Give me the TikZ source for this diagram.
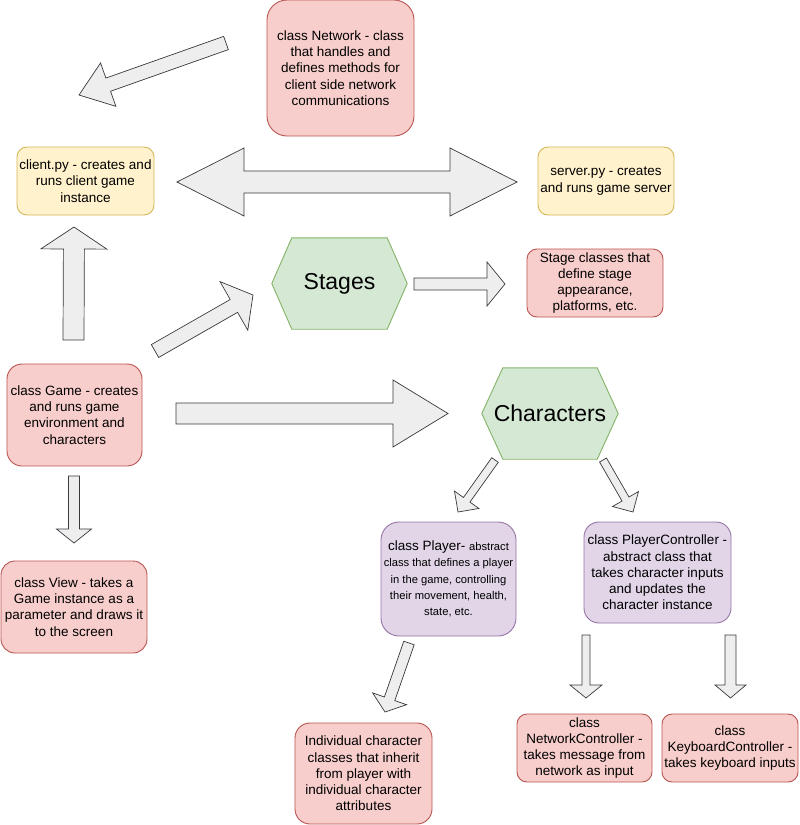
\documentclass[tikz,border=0pt]{standalone}
\usepackage{fontspec}
\setmainfont{Liberation Sans}
\usetikzlibrary{calc,backgrounds}

\definecolor{redfill}{HTML}{F8CECC}
\definecolor{redline}{HTML}{B85450}
\definecolor{yellowfill}{HTML}{FFF2CC}
\definecolor{yellowline}{HTML}{D6B656}
\definecolor{greenfill}{HTML}{D5E8D4}
\definecolor{greenline}{HTML}{82B366}
\definecolor{purplefill}{HTML}{E1D5E7}
\definecolor{purpleline}{HTML}{9673A6}
\definecolor{arrowfill}{HTML}{EEEEEE}
\definecolor{arrowline}{HTML}{36393D}

\newcommand\boxfont{\fontsize{13.5}{16.2}\selectfont}
\newcommand\smallfont{\fontsize{11.2}{16}\selectfont}
\newcommand\hexfont{\fontsize{23}{27}\selectfont}

% block arrow: #1 tail, #2 tip, #3 shaft half width, #4 head half width, #5 head length
\newcommand\blockarrow[5]{%
  \coordinate (ba-h) at ($(#2)!#5!(#1)$);
  \draw[blockarr] ($(#1)!#3!90:(#2)$) -- ($(ba-h)!#3!90:(#2)$) -- ($(ba-h)!#4!90:(#2)$)
    -- (#2) -- ($(ba-h)!#4!-90:(#2)$) -- ($(ba-h)!#3!-90:(#2)$) -- ($(#1)!#3!-90:(#2)$) -- cycle;
}
% double-headed block arrow between tips #1 and #2
\newcommand\doubleblockarrow[5]{%
  \coordinate (ba-a) at ($(#1)!#5!(#2)$);
  \coordinate (ba-b) at ($(#2)!#5!(#1)$);
  \draw[blockarr] (#1) -- ($(ba-a)!#4!90:(#2)$) -- ($(ba-a)!#3!90:(#2)$) -- ($(ba-b)!#3!90:(#2)$)
    -- ($(ba-b)!#4!90:(#2)$) -- (#2) -- ($(ba-b)!#4!-90:(#2)$) -- ($(ba-b)!#3!-90:(#2)$)
    -- ($(ba-a)!#3!-90:(#2)$) -- ($(ba-a)!#4!-90:(#2)$) -- cycle;
}
% hexagon drawn around a named node, #2 = corner inset
\newcommand\hexaround[2]{%
  \begin{scope}[on background layer]
    \draw[hexbox] (#1.west) -- ($(#1.north west)+(#2,0)$) -- ($(#1.north east)+(-#2,0)$)
      -- (#1.east) -- ($(#1.south east)+(-#2,0)$) -- ($(#1.south west)+(#2,0)$) -- cycle;
  \end{scope}
}

\tikzset{
  box/.style={draw, line width=0.9pt, align=center, inner sep=0pt, font=\boxfont},
  redbox/.style={box, fill=redfill, draw=redline},
  yellowbox/.style={box, fill=yellowfill, draw=yellowline},
  purplebox/.style={box, fill=purplefill, draw=purpleline},
  hexnode/.style={inner sep=0pt, font=\hexfont},
  hexbox/.style={draw=greenline, fill=greenfill, line width=0.9pt},
  blockarr/.style={draw=arrowline, fill=arrowfill, line width=0.7pt, line join=miter},
}

\begin{document}
\begin{tikzpicture}[x=1pt, y=-1pt]
\useasboundingbox (0,0) rectangle (800,825);

% ---- boxes ----
\node[redbox, minimum width=147pt, minimum height=136pt, rounded corners=20pt] (network) at (340.5,68)
  {class Network - class\\ that handles and\\ defines methods for\\ client side network\\ communications};
\node[yellowbox, minimum width=137pt, minimum height=68pt, rounded corners=10pt] (client) at (85.5,181)
  {client.py - creates and\\ runs client game\\ instance};
\node[yellowbox, minimum width=136pt, minimum height=68pt, rounded corners=10pt] (server) at (606,181)
  {server.py - creates\\ and runs game server};
\node[redbox, minimum width=136pt, minimum height=68pt, rounded corners=10pt] (stageclasses) at (595,283)
  {Stage classes that\\ define stage\\ appearance,\\ platforms, etc.};
\node[redbox, minimum width=135pt, minimum height=102pt, rounded corners=15pt] (game) at (74.5,415)
  {class Game - creates\\ and runs game\\ environment and\\ characters};
\node[redbox, minimum width=146pt, minimum height=92pt, rounded corners=14pt] (view) at (74,607)
  {class View - takes a\\ Game instance as a\\ parameter and draws it\\ to the screen};
\node[purplebox, minimum width=135pt, minimum height=114pt, rounded corners=18pt] (player) at (448.5,579)
  {class Player- {\smallfont abstract}\\ \smallfont class that defines a player\\ \smallfont in the game, controlling\\ \smallfont their movement, health,\\ \smallfont state, etc.};
\node[purplebox, minimum width=147pt, minimum height=101pt, rounded corners=15pt] (controller) at (657.5,572.5)
  {class PlayerController -\\ abstract class that\\ takes character inputs\\ and updates the\\ character instance};
\node[redbox, minimum width=137pt, minimum height=101pt, rounded corners=15pt] (individual) at (363.5,773.5)
  {Individual character\\ classes that inherit\\ from player with\\ individual character\\ attributes};
\node[redbox, minimum width=135pt, minimum height=68pt, rounded corners=10pt] (netctrl) at (584.5,748)
  {class\\ NetworkController -\\ takes message from\\ network as input};
\node[redbox, minimum width=136pt, minimum height=68pt, rounded corners=10pt] (keyctrl) at (730,748)
  {class\\ KeyboardController -\\ takes keyboard inputs};

% ---- hexagons ----
\node[hexnode, minimum width=135pt, minimum height=91pt] (stages) at (339.5,283.5) {Stages};
\hexaround{stages}{20}
\node[hexnode, minimum width=136pt, minimum height=91pt] (characters) at (550,413.5) {Characters};
\hexaround{characters}{21}

% ---- arrow end points ----
\coordinate (netA) at (226,43);    \coordinate (netB) at (79,95);
\coordinate (cliS) at (177,182);   \coordinate (srvS) at (517,182);
\coordinate (stgA) at (414,284);   \coordinate (stgB) at (505,284);
\coordinate (upA) at (73.5,340);   \coordinate (upB) at (74,227);
\coordinate (gsA) at (155,351);    \coordinate (gsB) at (253,295);
\coordinate (gcA) at (176,413.5);  \coordinate (gcB) at (448,413.5);
\coordinate (gvA) at (74,476);     \coordinate (gvB) at (74,543);
\coordinate (cpA) at (495,460);    \coordinate (cpB) at (458,512);
\coordinate (ccA) at (603,460);    \coordinate (ccB) at (633,512);
\coordinate (piA) at (409,643);    \coordinate (piB) at (385,712);
\coordinate (pnA) at (586,635);    \coordinate (pnB) at (586,698);
\coordinate (pkA) at (730.5,635);  \coordinate (pkB) at (730.5,698);

% ---- block arrows ----
\blockarrow{netA}{netB}{7pt}{23pt}{31pt}
\doubleblockarrow{cliS}{srvS}{11pt}{34pt}{67pt}
\blockarrow{stgA}{stgB}{6pt}{22pt}{18pt}
\blockarrow{upA}{upB}{10.5pt}{33pt}{22pt}
\blockarrow{gsA}{gsB}{7.4pt}{28pt}{22pt}
\blockarrow{gcA}{gcB}{10.5pt}{33.5pt}{55pt}
\blockarrow{gvA}{gvB}{5.5pt}{17.5pt}{14pt}
\blockarrow{cpA}{cpB}{4pt}{15pt}{15pt}
\blockarrow{ccA}{ccB}{4pt}{15pt}{15pt}
\blockarrow{piA}{piB}{5.5pt}{18pt}{14pt}
\blockarrow{pnA}{pnB}{4pt}{16pt}{13pt}
\blockarrow{pkA}{pkB}{5.5pt}{15.5pt}{13pt}
\end{tikzpicture}
\end{document}
